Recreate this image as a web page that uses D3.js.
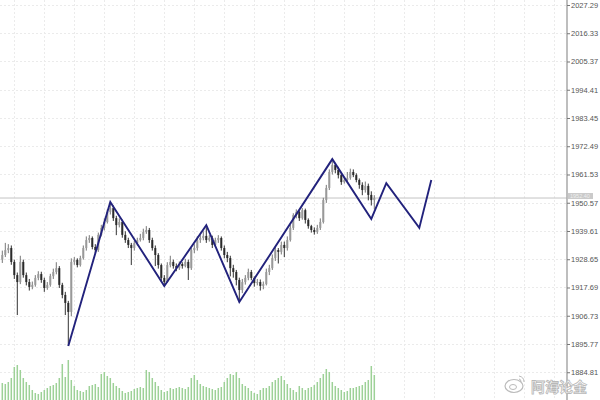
<!DOCTYPE html>
<html><head><meta charset="utf-8">
<script src="https://cdn.jsdelivr.net/npm/d3@7"></script>
<style>html,body{margin:0;padding:0;background:#fff;overflow:hidden}svg{display:block}</style>
</head><body>
<svg id="c" width="600" height="400"></svg>
<script>
const opens = [1928.5,1930.3,1932.2,1933.0,1927.6,1922.5,1919.8,1927.6,1922.5,1919.8,1917.9,1918.7,1921.4,1922.9,1920.6,1917.5,1918.7,1922.1,1923.7,1925.2,1918.7,1914.8,1911.7,1908.2,1927.6,1928.4,1926.4,1929.1,1933.0,1936.1,1936.9,1933.4,1932.2,1938.1,1940.8,1943.1,1947.0,1948.5,1944.6,1941.9,1943.1,1938.1,1936.1,1934.2,1933.0,1934.9,1936.1,1936.9,1939.2,1940.0,1936.1,1933.0,1930.3,1926.4,1921.4,1919.8,1926.4,1927.6,1926.0,1925.2,1926.8,1926.0,1927.6,1925.2,1932.2,1933.0,1936.1,1936.9,1937.7,1936.1,1936.9,1934.2,1936.1,1936.9,1933.0,1930.3,1929.1,1925.2,1923.7,1920.6,1916.7,1919.8,1921.4,1923.7,1921.4,1919.4,1919.8,1918.3,1919.0,1923.7,1925.2,1929.1,1932.2,1931.5,1934.2,1933.0,1936.1,1940.8,1945.8,1947.0,1944.6,1947.7,1943.9,1941.5,1940.0,1939.2,1940.8,1943.1,1951.6,1956.3,1962.5,1965.2,1963.3,1961.3,1958.6,1959.4,1960.2,1962.5,1961.3,1959.4,1957.5,1955.5,1957.1,1953.6,1951.6];
const closes = [1930.3,1932.2,1933.0,1927.6,1922.5,1919.8,1927.6,1922.5,1919.8,1917.9,1918.7,1921.4,1922.9,1920.6,1917.5,1918.7,1922.1,1923.7,1925.2,1918.7,1914.8,1911.7,1908.2,1927.6,1928.4,1926.4,1929.1,1933.0,1936.1,1936.9,1933.4,1932.2,1938.1,1940.8,1943.1,1947.0,1948.5,1944.6,1941.9,1943.1,1938.1,1936.1,1934.2,1933.0,1934.9,1936.1,1936.9,1939.2,1940.0,1936.1,1933.0,1930.3,1926.4,1921.4,1919.8,1926.4,1927.6,1926.0,1925.2,1926.8,1926.0,1927.6,1925.2,1932.2,1933.0,1936.1,1936.9,1937.7,1936.1,1936.9,1934.2,1936.1,1936.9,1933.0,1930.3,1929.1,1925.2,1923.7,1920.6,1916.7,1919.8,1921.4,1923.7,1921.4,1919.4,1919.8,1918.3,1919.0,1923.7,1925.2,1929.1,1932.2,1931.5,1934.2,1933.0,1936.1,1940.8,1945.8,1947.0,1944.6,1947.7,1943.9,1941.5,1940.0,1939.2,1940.8,1943.1,1951.6,1956.3,1962.5,1965.2,1963.3,1961.3,1958.6,1959.4,1960.2,1962.5,1961.3,1959.4,1957.5,1955.5,1957.1,1953.6,1951.6,1952.4];
const highs = [1932.0,1935.0,1934.5,1934.0,1928.5,1923.5,1930.0,1928.5,1923.5,1921.0,1920.0,1922.5,1924.0,1923.8,1921.5,1919.8,1923.0,1925.0,1927.5,1926.0,1919.5,1916.0,1912.5,1929.0,1929.5,1929.0,1930.0,1934.0,1937.5,1938.0,1937.5,1934.5,1939.0,1942.0,1944.5,1948.0,1950.9,1949.5,1945.5,1944.5,1944.0,1939.5,1937.0,1935.0,1935.8,1937.0,1938.5,1940.5,1941.5,1940.8,1937.0,1934.0,1931.0,1927.0,1922.5,1927.5,1930.0,1928.5,1927.0,1927.8,1927.5,1928.8,1928.5,1933.0,1934.5,1937.5,1938.0,1939.5,1941.0,1938.0,1937.8,1937.0,1938.0,1937.5,1934.0,1931.5,1930.0,1926.5,1924.5,1921.5,1921.0,1922.5,1925.0,1924.5,1922.0,1921.0,1920.8,1920.0,1925.0,1926.5,1930.5,1933.5,1933.0,1935.5,1935.5,1937.5,1942.0,1946.5,1948.0,1947.5,1948.5,1948.3,1944.5,1942.0,1941.0,1942.0,1944.5,1952.5,1957.5,1963.5,1967.3,1966.0,1964.5,1962.0,1960.5,1962.5,1963.8,1963.5,1962.0,1960.0,1958.5,1958.8,1958.0,1955.0,1953.5];
const lows = [1927.2,1929.5,1931.0,1926.5,1921.0,1907.0,1919.0,1921.5,1918.5,1916.5,1917.0,1918.0,1920.5,1919.5,1916.0,1916.8,1918.0,1921.0,1922.8,1917.5,1913.5,1907.0,1895.0,1906.5,1926.5,1925.5,1925.8,1928.5,1932.0,1935.0,1932.5,1931.0,1931.5,1937.5,1939.8,1942.5,1946.0,1943.5,1938.0,1941.0,1937.0,1935.0,1933.0,1926.4,1932.0,1934.0,1935.5,1936.0,1938.5,1935.0,1932.0,1926.0,1925.0,1920.0,1918.5,1919.5,1925.5,1925.0,1924.0,1924.5,1925.0,1925.5,1920.6,1924.5,1931.0,1932.0,1935.0,1936.0,1935.0,1935.5,1933.0,1933.5,1935.0,1932.0,1929.0,1927.5,1922.0,1921.5,1918.5,1912.5,1915.5,1918.8,1920.5,1920.5,1918.0,1918.5,1916.5,1917.0,1918.5,1922.5,1924.5,1928.0,1927.0,1930.5,1929.5,1932.0,1935.5,1940.0,1944.5,1943.5,1944.0,1942.5,1940.5,1939.0,1938.2,1938.5,1940.0,1942.5,1950.5,1955.5,1961.5,1962.0,1960.0,1957.5,1958.0,1958.8,1959.5,1960.5,1958.5,1956.0,1953.5,1954.5,1951.5,1949.5,1948.0];
const volumes = [17,16,18,22,33,35,30,22,18,15,10,7,6,8,10,12,14,15,17,22,36,23,40,20,14,10,9,8,10,14,15,16,13,26,28,24,22,17,14,12,9,7,8,9,11,12,13,12,30,28,22,18,14,10,8,9,12,11,12,13,12,11,13,22,25,20,16,14,13,12,11,10,12,13,18,22,26,25,28,22,16,14,12,9,7,6,10,12,12,14,18,20,22,24,20,16,12,10,8,14,12,10,12,13,15,18,22,26,31,28,18,14,12,10,8,9,12,12,13,14,15,18,20,34,25];
const zigIdx = [22,36,54,68,79,110,123,128,139,143];
const zigPrice = [1895.0,1950.9,1918.3,1941.9,1912.1,1967.5,1944.3,1958.2,1940.8,1959.4];
const priceTicks = [2027.29,2016.33,2005.37,1994.41,1983.45,1972.49,1961.53,1950.57,1939.61,1928.65,1917.69,1906.73,1895.77,1884.81];
const gridIdx = [4,14,24,34,44,54,64,74,84,94,104,114,124,134,144,154,164,174,184];
const lastPrice = 1952.40;
const watermark = "阿海论金";

const W = 600, H = 400, axisX = 567;
const svg = d3.select("#c");
const x = d3.scaleLinear().domain([0, 190]).range([2.3, 572.3]);
const y = d3.scaleLinear().domain([1874.04, 2029.23]).range([400, 0]);
const yv = d3.scaleLinear().domain([0, 45]).range([400, 355]);

// grid
const g = svg.append("g");
g.selectAll(".hg").data(priceTicks).join("line")
  .attr("x1", 0).attr("x2", axisX).attr("y1", d => Math.round(y(d)) + 0.5).attr("y2", d => Math.round(y(d)) + 0.5)
  .attr("stroke", "#ebebeb").attr("stroke-dasharray", "2,2");
g.selectAll(".vg").data(gridIdx.filter(i => x(i) < axisX)).join("line")
  .attr("x1", d => Math.round(x(d)) + 0.5).attr("x2", d => Math.round(x(d)) + 0.5).attr("y1", 0).attr("y2", H)
  .attr("stroke", "#ebebeb").attr("stroke-dasharray", "2,2");

// volume
svg.append("g").selectAll("rect").data(volumes).join("rect")
  .attr("x", (d, i) => x(i) - 0.75).attr("width", 1.5)
  .attr("y", d => yv(d)).attr("height", d => 400 - yv(d))
  .attr("fill", "#9dd197");

// current price line
svg.append("line").attr("x1", 0).attr("x2", axisX).attr("y1", y(lastPrice)).attr("y2", y(lastPrice))
  .attr("stroke", "#c4c4c4").attr("stroke-width", 1);

// candles
const cg = svg.append("g");
closes.forEach((c, i) => {
  const o = opens[i], up = c >= o;
  cg.append("line").attr("x1", x(i)).attr("x2", x(i)).attr("y1", y(highs[i])).attr("y2", y(lows[i]))
    .attr("stroke", up ? "#777" : "#333").attr("stroke-width", 1);
  const top = y(Math.max(o, c)), bot = y(Math.min(o, c));
  cg.append("rect").attr("x", x(i) - 1).attr("width", 2).attr("y", top).attr("height", Math.max(1, bot - top))
    .attr("fill", up ? "#999" : "#2a2a2a");
});

// zigzag
const zz = zigIdx.map((d, i) => [d, zigPrice[i]]);
svg.append("path").datum(zz)
  .attr("d", d3.line().x(d => x(d[0])).y(d => y(d[1])))
  .attr("fill", "none").attr("stroke", "#22227c").attr("stroke-width", 1.9).attr("stroke-linejoin", "miter");

// axis
svg.append("rect").attr("x", axisX).attr("y", 0).attr("width", W - axisX).attr("height", H).attr("fill", "#fff");
svg.append("line").attr("x1", axisX).attr("x2", axisX).attr("y1", 0).attr("y2", H).attr("stroke", "#a9a9a9").attr("stroke-width", 1.5);
const ax = svg.append("g").attr("transform", `translate(${axisX},0)`)
  .call(d3.axisRight(y).tickValues(priceTicks).tickSize(3).tickPadding(1).tickFormat(d3.format(".2f")));
ax.select(".domain").remove();
ax.selectAll("line").attr("stroke", "#777");
ax.selectAll("text").attr("fill", "#555").style("font-family", "Liberation Sans, Arial, sans-serif").style("font-size", "7.5px");

// last price box
svg.append("rect").attr("x", axisX + 1).attr("y", y(lastPrice) - 5).attr("width", 25).attr("height", 6).attr("fill", "#cacaca");
svg.append("text").attr("x", axisX + 3).attr("y", y(lastPrice) + 0.2).text(lastPrice.toFixed(2))
  .attr("fill", "#eee").style("font-family", "Liberation Sans, Arial, sans-serif").style("font-size", "5.5px");

// watermark
const wm = svg.append("g");
wm.append("ellipse").attr("cx", 514).attr("cy", 386).attr("rx", 9).attr("ry", 6.5).attr("fill", "rgba(255,255,255,0.6)").attr("stroke", "#bbb").attr("stroke-width", 1.2);
wm.append("ellipse").attr("cx", 513).attr("cy", 387).attr("rx", 3.5).attr("ry", 2.5).attr("fill", "none").attr("stroke", "#bbb").attr("stroke-width", 1);
wm.append("path").attr("d", "M519,376 q5,1 5,6 M519,379 q2,0 2,3").attr("fill", "none").attr("stroke", "#bbb").attr("stroke-width", 1);
wm.append("text").attr("x", 531).attr("y", 392).text(watermark)
  .attr("fill", "rgba(255,255,255,0.85)").attr("stroke", "#b8b8b8").attr("stroke-width", 0.8)
  .style("font-family", "Noto Sans CJK SC, sans-serif").style("font-size", "14px").style("font-weight", "bold");
</script>
</body></html>
